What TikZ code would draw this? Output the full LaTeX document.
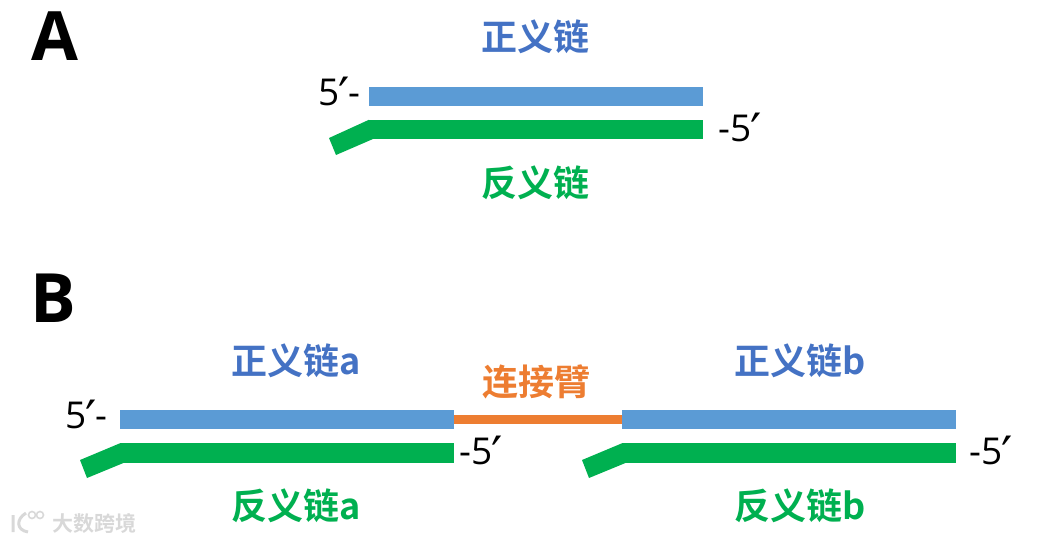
\documentclass[tikz,border=0pt]{standalone}
\usepackage{fontspec}
\setmainfont{Open Sans}
\newfontfamily\cjk{Noto Sans CJK SC}[BoldFont={Noto Sans CJK SC Bold}]
\newfontfamily\primefont{DejaVu Sans}
\newcommand{\myprime}{\kern-1pt\smash{\raisebox{-8pt}{\primefont\fontsize{50}{50}\selectfont ′}}\kern-1pt}
\definecolor{sense}{HTML}{5B9BD5}
\definecolor{anti}{HTML}{00B050}
\definecolor{senselabel}{HTML}{4472C4}
\definecolor{linker}{HTML}{ED7D31}
\definecolor{wm}{HTML}{D8D8D8}
\tikzset{
  x=1pt,y=-1pt,
  bar/.style={minimum height=#1,inner sep=0pt,outer sep=0pt,anchor=west},
  sensebar/.style={bar=19.5pt,fill=sense,minimum width=334pt},
  antibar/.style={bar=19.5pt,fill=anti,minimum width=334pt},
  tail/.style={fill=anti},
  label/.style={inner sep=0pt,font=\cjk\bfseries\fontsize{36}{36}\selectfont},
  endmark/.style={inner sep=0pt,font=\fontsize{37}{37}\selectfont,text=black},
  panel/.style={inner sep=0pt,font=\bfseries\fontsize{68}{68}\selectfont,text=black}
}
\begin{document}
\begin{tikzpicture}
\useasboundingbox (0,0) rectangle (1055,542);
% panel A
\node[panel] (pa) at (55,36) {A};
\node[sensebar] (sa) at (369,96.5) {};
\node[antibar] (aa) at (369,129.5) {};
\fill[tail] (aa.north west) -- (329,138) -- (336,155) -- (373,139) -- (aa.south west) -- cycle;
\node[label,text=senselabel] (lsa) at (535,37) {正义链};
\node[label,text=anti] (laa) at (535,183) {反义链};
\node[endmark,anchor=east] (e1) at (361,92) {5\myprime-};
\node[endmark,anchor=west] (e2) at (718,128) {-5\myprime};
% panel B
\node[panel] (pb) at (53,298) {B};
\node[sensebar] (s1) at (120,419.5) {};
\node[sensebar] (s2) at (622,419.5) {};
\node[antibar] (a1) at (120,453) {};
\node[antibar] (a2) at (622,453) {};
\draw[linker,line width=9pt] (s1.east) -- (s2.west);
\fill[tail] (a1.north west) -- (80,460) -- (87,478) -- (124,462.75) -- (a1.south west) -- cycle;
\fill[tail] (a2.north west) -- (582,460) -- (589,478) -- (626,462.75) -- (a2.south west) -- cycle;
\node[label,text=senselabel] (l1) at (296,361) {正义链a};
\node[label,text=senselabel] (l2) at (800,361) {正义链b};
\node[label,text=linker] (l3) at (536,382) {连接臂};
\node[label,text=anti] (l4) at (296,506) {反义链a};
\node[label,text=anti] (l5) at (800,506) {反义链b};
\node[endmark,anchor=east] (e3) at (108,415) {5\myprime-};
\node[endmark,anchor=west] (e4) at (459,451) {-5\myprime};
\node[endmark,anchor=west] (e5) at (969,451) {-5\myprime};
% watermark
\node[inner sep=0pt,anchor=west,text=wm,font=\cjk\bfseries\fontsize{21}{21}\selectfont] (w) at (52,523) {大数跨境};
\draw[wm,line width=3pt] (13,515) -- (13,532) (26,513) .. controls (16,519) and (16,530) .. (28,532);
\draw[wm,line width=1.6pt] (32,515) circle (3.5) (40,515) circle (3.5);
\end{tikzpicture}
\end{document}
